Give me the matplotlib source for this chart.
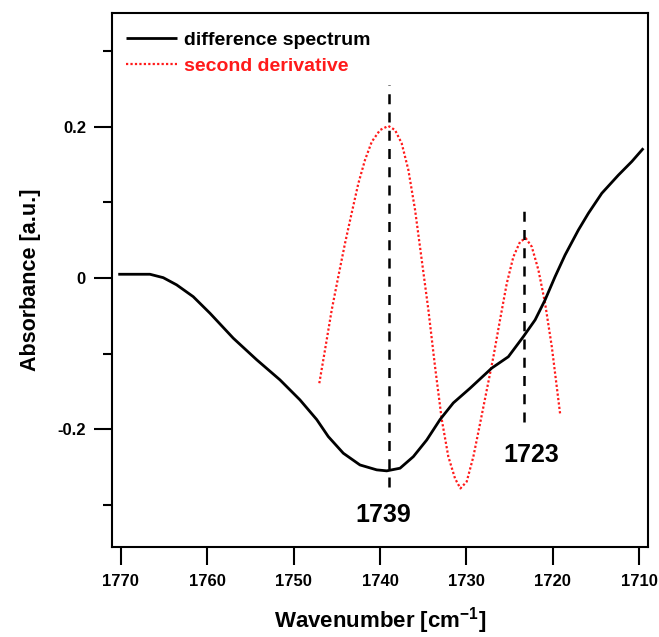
import matplotlib
matplotlib.use("Agg")
import matplotlib.pyplot as plt

plt.rcParams['font.family'] = ['Liberation Sans', 'DejaVu Sans']
plt.rcParams['font.weight'] = 'bold'
plt.rcParams['mathtext.fontset'] = 'custom'
plt.rcParams['mathtext.rm'] = 'Liberation Sans:bold'
plt.rcParams['mathtext.bf'] = 'Liberation Sans:bold'

# difference spectrum
diff_x = [1770.31, 1766.64, 1765.10, 1763.55, 1761.63, 1759.69, 1756.99, 1754.28,
          1751.58, 1749.27, 1747.33, 1745.99, 1744.25, 1742.32, 1740.38, 1739.22,
          1737.68, 1736.14, 1734.59, 1733.05, 1731.51, 1729.57, 1727.06, 1725.14,
          1723.40, 1722.04, 1720.89, 1719.73, 1718.57, 1717.03, 1715.87, 1714.32,
          1712.40, 1710.84, 1709.50]
diff_y = [0.005, 0.005, 0.0005, -0.009, -0.0246, -0.0465, -0.0795, -0.108,
          -0.1346, -0.161, -0.187, -0.2095, -0.2315, -0.247, -0.2535, -0.2548,
          -0.2513, -0.236, -0.214, -0.187, -0.165, -0.1456, -0.119, -0.104,
          -0.0774, -0.0553, -0.029, 0.0018, 0.0305, 0.0635, 0.0856, 0.112,
          0.136, 0.154, 0.1715]

# second derivative
deriv_x = [1747.03, 1746.37, 1745.59, 1744.83, 1744.05, 1743.28, 1742.51, 1741.74,
           1740.96, 1740.00, 1739.04, 1738.26, 1737.49, 1736.72, 1735.94, 1735.17,
           1734.40, 1733.63, 1732.85, 1732.09, 1731.31, 1730.69, 1729.96, 1729.19,
           1728.41, 1727.64, 1726.87, 1726.10, 1725.32, 1724.56, 1723.78, 1723.12,
           1722.43, 1721.66, 1720.89, 1720.11, 1719.15]
deriv_y = [-0.139, -0.095, -0.042, 0.002, 0.046, 0.086, 0.125, 0.156,
           0.180, 0.1956, 0.201, 0.1956, 0.178, 0.143, 0.090, 0.024,
           -0.042, -0.117, -0.187, -0.236, -0.265, -0.278, -0.269, -0.236,
           -0.192, -0.148, -0.104, -0.055, -0.007, 0.028, 0.048, 0.0526,
           0.0415, 0.0107, -0.033, -0.0906, -0.179]

# marked peaks
peak_x = [1739.0, 1723.3]
peak_top = [0.255, 0.0966]
peak_bottom = [-0.2756, -0.190]
peak_labels = ['1739', '1723']
label_x = [1739.6, 1722.5]
label_y = [-0.313, -0.234]

legend_labels = ['difference spectrum', 'second derivative']
xticks = [1770, 1760, 1750, 1740, 1730, 1720, 1710]
yticks_major = [-0.2, 0, 0.2]
yticklabels = ['-0.2', '0', '0.2']
yticks_minor = [-0.3, -0.1, 0.1, 0.3]

fig = plt.figure(figsize=(6.59, 6.37), dpi=100)
ax = fig.add_axes([0.1704, 0.1418, 0.9829 - 0.1704, 0.980 - 0.1418])

l1, = ax.plot(diff_x, diff_y, color='black', lw=2.0, label=legend_labels[0],
              solid_capstyle='butt', solid_joinstyle='round', zorder=3)
l2, = ax.plot(deriv_x, deriv_y, color='#ff1a1a', lw=1.6, linestyle=(0, (1, 1)),
              label=legend_labels[1], dash_capstyle='butt', zorder=2)

for px, t, b in zip(peak_x, peak_top, peak_bottom):
    ax.plot([px, px], [b, t], color='black', lw=1.8, linestyle=(0, (4, 3.3)),
            dash_capstyle='butt', zorder=4)
for tx, ty, s in zip(label_x, label_y, peak_labels):
    ax.text(tx, ty, s, ha='center', va='center', fontsize=18, fontweight='bold')

ax.set_xlim(1771.0, 1709.0)
ax.set_ylim(-0.355, 0.3506)
ax.set_xticks(xticks)
ax.set_xticklabels([str(v) for v in xticks])
ax.set_yticks(yticks_major)
ax.set_yticklabels(yticklabels)
ax.set_yticks(yticks_minor, minor=True)

ax.tick_params(axis='both', which='major', direction='out', length=13, width=1.5,
               labelsize=12, pad=6)
ax.tick_params(axis='y', which='minor', direction='out', length=6.5, width=1.5)
ax.tick_params(axis='x', which='major', pad=7)
for sp in ax.spines.values():
    sp.set_linewidth(1.5)

ax.set_xlabel(r'Wavenumber [cm$^{\mathbf{-1}}$]', fontsize=16, fontweight='bold', labelpad=11.5)
ax.set_ylabel('Absorbance [a.u.]', fontsize=15.5, fontweight='bold', labelpad=12)

leg = ax.legend(handles=[l1, l2], loc='upper left', bbox_to_anchor=(0.026, 0.966),
                frameon=False, fontsize=14, handlelength=2.6, handletextpad=0.35,
                borderpad=0, borderaxespad=0, labelspacing=0.45)
leg.get_texts()[1].set_color('#ff1a1a')

fig.savefig('out.png', dpi=100)
